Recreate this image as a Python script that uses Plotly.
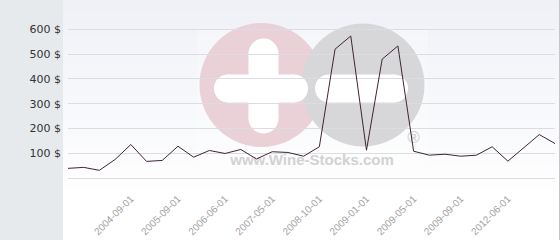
import plotly.graph_objects as go

# ---- data ----
dates = [
    "2003-11-01", "2004-01-01", "2004-03-01", "2004-06-01", "2004-09-01",
    "2005-01-01", "2005-05-01", "2005-09-01", "2005-12-01", "2006-03-01",
    "2006-06-01", "2006-10-01", "2007-01-01", "2007-05-01", "2007-10-01",
    "2008-03-01", "2008-10-01", "2008-11-01", "2008-12-01", "2009-01-01",
    "2009-02-01", "2009-03-01", "2009-05-01", "2009-06-01", "2009-07-01",
    "2009-09-01", "2010-06-01", "2011-06-01", "2012-06-01", "2013-01-01",
    "2013-06-01", "2014-01-01",
]
prices = [
    40, 44, 32, 76, 136, 68, 72, 129, 85, 112,
    100, 116, 78, 107, 104, 89, 127, 520, 573, 113,
    480, 533, 109, 93, 97, 89, 93, 127, 69, 123,
    176, 140,
]
tick_dates = dates[4:31:3]
y_ticks = [0, 100, 200, 300, 400, 500, 600]
y_labels = ["" if v == 0 else f"{v} $" for v in y_ticks]

# ---- layout geometry ----
W, H = 560, 240
L, R, T, B = 68, 5, 0, 60
PW = W - L - R
PH = H - T - B


def px(x):
    return (x - L) / PW


def py(y):
    return (H - B - y) / PH


shapes = []
# left grey panel
shapes.append(dict(type="rect", xref="paper", yref="paper", layer="below",
                   x0=px(0), x1=px(63), y0=py(H), y1=py(0),
                   fillcolor="#e6eaed", line=dict(width=0)))
# gradient background
n = 40
top = (239, 241, 247)
for i in range(n):
    y0 = 200 * i / n
    y1 = 200 * (i + 1) / n
    t = i / (n - 1)
    c = tuple(int(round(a + (255 - a) * t)) for a in top)
    shapes.append(dict(type="rect", xref="paper", yref="paper", layer="below",
                       x0=px(63), x1=px(559), y0=py(y1 + 0.5), y1=py(y0),
                       fillcolor="rgb(%d,%d,%d)" % c, line=dict(width=0)))
shapes.append(dict(type="rect", xref="paper", yref="paper", layer="below",
                   x0=px(63), x1=px(559), y0=py(H), y1=py(200),
                   fillcolor="#ffffff", line=dict(width=0)))
# watermark backdrop
shapes.append(dict(type="rect", xref="paper", yref="paper", layer="below",
                   x0=px(197), x1=px(428), y0=py(172), y1=py(30),
                   fillcolor="rgba(255,255,255,0.25)", line=dict(width=0)))


def circ(cx, cy, r, color):
    return dict(type="circle", xref="paper", yref="paper", layer="below",
                x0=px(cx - r), x1=px(cx + r), y0=py(cy + r), y1=py(cy - r),
                fillcolor=color, line=dict(width=0))


def rect(x0, x1, y0, y1, color):
    return dict(type="rect", xref="paper", yref="paper", layer="below",
                x0=px(x0), x1=px(x1), y0=py(y1), y1=py(y0),
                fillcolor=color, line=dict(width=0))


def hbar(x0, x1, cy, h, color):
    r = h / 2
    return [rect(x0 + r, x1 - r, cy - r, cy + r, color),
            circ(x0 + r, cy, r, color), circ(x1 - r, cy, r, color)]


def vbar(cx, y0, y1, w, color):
    r = w / 2
    return [rect(cx - r, cx + r, y0 + r, y1 - r, color),
            circ(cx, y0 + r, r, color), circ(cx, y1 - r, r, color)]


shapes.append(circ(261.5, 85, 62, "#ead0d7"))
shapes.append(circ(363, 85, 61.5, "#d7d7d9"))
shapes += vbar(263.5, 38.5, 133.5, 30, "#ffffff")
shapes += hbar(214, 308, 88.5, 28, "#ffffff")
shapes += hbar(315, 408, 88.5, 28, "#ffffff")
# right border
shapes.append(dict(type="line", xref="paper", yref="paper", layer="above",
                   x0=px(559.5), x1=px(559.5), y0=py(H), y1=py(0),
                   line=dict(color="#c4c6cc", width=1)))

fig = go.Figure()
# watermark text (base axes, drawn below the data line)
fig.add_trace(go.Scatter(
    x=[312, 413.5], y=[161, 139], mode="text",
    text=["www.Wine-Stocks.com", "®"],
    textfont=dict(family="Liberation Sans", size=[15, 17],
                  color="#d2d2d4", weight="bold"),
    hoverinfo="skip", xaxis="x", yaxis="y", showlegend=False))

# data line on overlay axes
fig.add_trace(go.Scatter(
    x=dates, y=prices, mode="lines",
    line=dict(color="#3f2535", width=1),
    xaxis="x2", yaxis="y2", showlegend=False))

fig.update_layout(
    width=W, height=H,
    margin=dict(l=L, r=R, t=T, b=B),
    paper_bgcolor="#ffffff", plot_bgcolor="rgba(0,0,0,0)",
    showlegend=False,
    shapes=shapes,
    xaxis=dict(range=[L, W - R], visible=False, fixedrange=True),
    yaxis=dict(range=[H - B, 0], visible=False, fixedrange=True),
    xaxis2=dict(type="category", overlaying="x", range=[0, len(dates) - 1],
                tickmode="array", tickvals=tick_dates, ticktext=tick_dates,
                tickangle=-45, showgrid=False, zeroline=False, showline=False,
                ticks="", ticklabelstandoff=10,
                tickfont=dict(family="Liberation Sans", size=10,
                              color="#a2a2a2")),
    yaxis2=dict(overlaying="y", range=[-6.85, 718], tickmode="array",
                tickvals=y_ticks, ticktext=y_labels, showgrid=True,
                gridcolor="#dcdde2", gridwidth=1, zeroline=False,
                showline=False, ticks="", ticklabelstandoff=6,
                tickfont=dict(family="DejaVu Sans", size=11, color="#333333")),
)

fig.write_html("out.html")
